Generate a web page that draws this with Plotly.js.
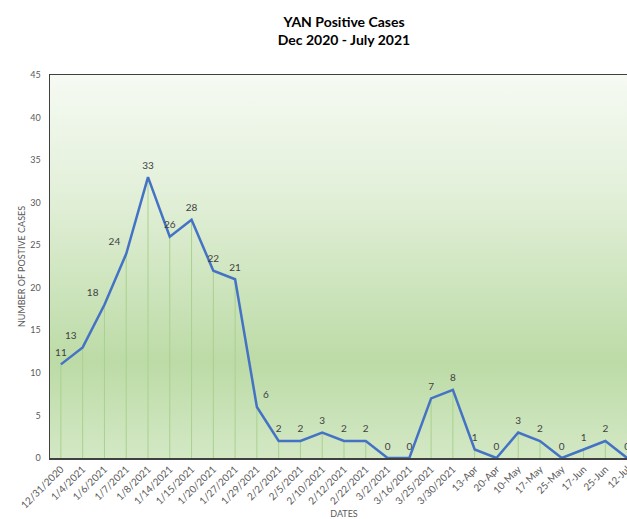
<!DOCTYPE html>
<html>
<head>
<meta charset="utf-8">
<script src="https://cdn.plot.ly/plotly-3.0.1.min.js"></script>
<style>
html,body{margin:0;padding:0;overflow:hidden;background:#fff;width:627px;height:519px;}
#chart{width:640px;height:519px;}
</style>
</head>
<body>
<div id="chart"></div>
<script>
var categories = ["12/31/2020","1/4/2021","1/6/2021","1/7/2021","1/8/2021","1/14/2021","1/15/2021","1/20/2021","1/27/2021","1/29/2021","2/2/2021","2/5/2021","2/10/2021","2/12/2021","2/22/2021","3/2/2021","3/16/2021","3/25/2021","3/30/2021","13-Apr","20-Apr","10-May","17-May","25-May","17-Jun","25-Jun","12-Jul"];
var positiveCases = [11,13,18,24,33,26,28,22,21,6,2,2,3,2,2,0,0,7,8,1,0,3,2,0,1,2,0];
var yTicks = [0,5,10,15,20,25,30,35,40,45];

var labelPos = categories.map(function(c, i){
  if (i === 1 || i === 2 || i === 3) return 'top left';
  if (i === 9) return 'top right';
  return 'top center';
});

var grad = "<svg xmlns='http://www.w3.org/2000/svg' width='10' height='100' preserveAspectRatio='none'>" +
  "<defs><linearGradient id='g' x1='0' y1='0' x2='0' y2='1'>" +
  "<stop offset='0' stop-color='#f6faf3'/>" +
  "<stop offset='0.3' stop-color='#e3f0da'/>" +
  "<stop offset='0.75' stop-color='#bcdba6'/>" +
  "<stop offset='1' stop-color='#d3e8c5'/>" +
  "</linearGradient></defs><rect width='10' height='100' fill='url(#g)'/></svg>";
var gradUri = "data:image/svg+xml;charset=utf-8," + encodeURIComponent(grad);

var trace = {
  type: 'scatter',
  mode: 'lines+markers+text',
  x: categories,
  y: positiveCases,
  text: positiveCases.map(String),
  textposition: labelPos,
  textfont: {family: 'Lato, "Open Sans", sans-serif', size: 10, color: '#404040'},
  marker: {size: 8, opacity: 0, color: '#4472c4'},
  line: {color: '#4472c4', width: 2.5},
  error_y: {
    type: 'data', symmetric: false,
    array: positiveCases.map(function(){return 0;}),
    arrayminus: positiveCases,
    color: '#a9d18e', thickness: 1, width: 0
  },
  cliponaxis: false,
  hoverinfo: 'x+y'
};

var layout = {
  width: 640, height: 519,
  margin: {l: 50, r: 2, t: 75, b: 61},
  paper_bgcolor: '#ffffff',
  plot_bgcolor: 'rgba(0,0,0,0)',
  font: {family: 'Lato, "Open Sans", sans-serif', color: '#595959'},
  showlegend: false,
  title: {
    text: '<b>YAN Positive Cases<br>Dec 2020 - July 2021</b>',
    x: 0.5, xref: 'paper', xanchor: 'center',
    y: 1 - 27/519, yref: 'container', yanchor: 'middle',
    font: {family: 'Lato, "Open Sans", sans-serif', size: 14, color: '#000000'}
  },
  images: [{
    source: gradUri, xref: 'paper', yref: 'paper',
    x: 0, y: 1, sizex: 1, sizey: 1, sizing: 'stretch',
    xanchor: 'left', yanchor: 'top', layer: 'below'
  }],
  xaxis: {
    type: 'category',
    range: [-0.5, 26.5],
    showgrid: false, zeroline: false,
    showline: true, linecolor: '#404040', linewidth: 1.5, mirror: true,
    ticks: '', tickangle: -45,
    tickfont: {size: 10, color: '#595959'},
    automargin: false,
    title: {text: 'DATES', font: {size: 9, color: '#595959'}, standoff: 18}
  },
  yaxis: {
    range: [0, 45],
    tickvals: yTicks,
    showgrid: false, zeroline: false,
    showline: true, linecolor: '#404040', linewidth: 1.5, mirror: true,
    ticks: '', ticklabelstandoff: 6,
    tickfont: {size: 9, color: '#595959'},
    automargin: false,
    title: {text: 'NUMBER OF POSTIVE CASES', font: {size: 9, color: '#595959'}, standoff: 3}
  }
};

Plotly.newPlot('chart', [trace], layout, {displayModeBar: false, staticPlot: true});
</script>
</body>
</html>
